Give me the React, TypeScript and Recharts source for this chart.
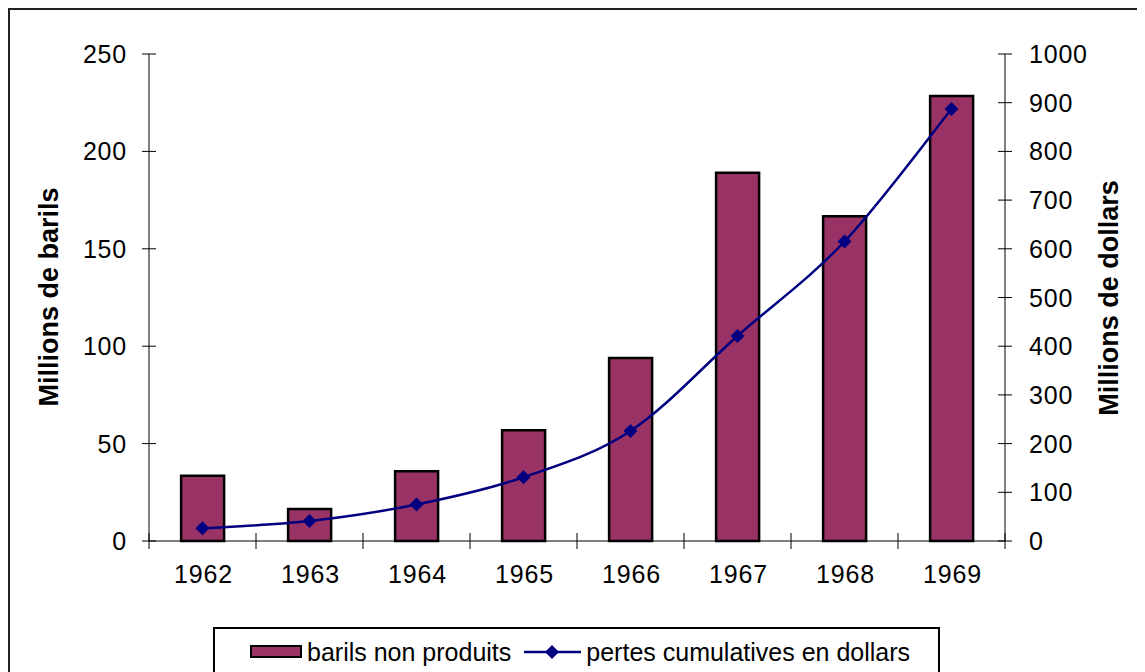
import { Bar, ComposedChart, Line, XAxis, YAxis } from 'recharts';

const years = ['1962', '1963', '1964', '1965', '1966', '1967', '1968', '1969'];
const barilsNonProduits = [33.5, 16.4, 35.8, 56.8, 94, 189, 166.7, 228.4];
const pertesCumulatives = [26, 41, 75, 131, 226, 421, 615, 887];
const leftTicks = [0, 50, 100, 150, 200, 250];
const rightTicks = [0, 100, 200, 300, 400, 500, 600, 700, 800, 900, 1000];

const font = '"Liberation Sans", Arial, sans-serif';
const barColor = '#993366';
const lineColor = '#000080';

const rows = years.map((year, i) => ({
  year,
  barils: barilsNonProduits[i],
  pertes: pertesCumulatives[i],
}));

const plotWidth = 856;
const band = plotWidth / years.length;

// Excel-like smoothed line (Catmull-Rom through the points)
function smoothCurve(context: any) {
  let pts: number[][] = [];
  return {
    areaStart() {},
    areaEnd() {},
    lineStart() {
      pts = [];
    },
    point(x: number, y: number) {
      pts.push([+x, +y]);
    },
    lineEnd() {
      if (!pts.length) return;
      context.moveTo(pts[0][0], pts[0][1]);
      for (let i = 0; i < pts.length - 1; i++) {
        const p0 = pts[i - 1] || pts[i];
        const p1 = pts[i];
        const p2 = pts[i + 1];
        const p3 = pts[i + 2] || p2;
        context.bezierCurveTo(
          p1[0] + (p2[0] - p0[0]) / 6,
          p1[1] + (p2[1] - p0[1]) / 6,
          p2[0] - (p3[0] - p1[0]) / 6,
          p2[1] - (p3[1] - p1[1]) / 6,
          p2[0],
          p2[1],
        );
      }
    },
  };
}

function LeftTick(props: any) {
  const { x, y, payload } = props;
  return (
    <g>
      <line x1={x - 7} x2={x + 7} y1={y} y2={y} stroke="#000" />
      <text x={x - 22} y={y} dy="0.36em" textAnchor="end" fontSize={25} letterSpacing={0.8} fontFamily={font} fill="#000">
        {payload.value}
      </text>
    </g>
  );
}

function RightTick(props: any) {
  const { x, y, payload } = props;
  return (
    <g>
      <line x1={x - 7} x2={x + 7} y1={y} y2={y} stroke="#000" />
      <text x={x + 24} y={y} dy="0.36em" textAnchor="start" fontSize={25} letterSpacing={0.8} fontFamily={font} fill="#000">
        {payload.value}
      </text>
    </g>
  );
}

function YearTick(props: any) {
  const { x, y, payload, index } = props;
  const left = x - band / 2;
  return (
    <g>
      <line x1={left} x2={left} y1={y - 8} y2={y + 8} stroke="#000" />
      {index === years.length - 1 ? (
        <line x1={x + band / 2} x2={x + band / 2} y1={y - 8} y2={y + 8} stroke="#000" />
      ) : null}
      <text x={x + 1} y={y + 42} textAnchor="middle" fontSize={25} letterSpacing={0.8} fontFamily={font} fill="#000">
        {payload.value}
      </text>
    </g>
  );
}

const renderDiamond = (props: any) => {
  const { cx, cy, index } = props;
  const r = 7;
  return (
    <polygon
      key={`dot-${index}`}
      points={`${cx},${cy - r} ${cx + r},${cy} ${cx},${cy + r} ${cx - r},${cy}`}
      fill={lineColor}
    />
  );
};

const titleStyle = {
  position: 'absolute' as const,
  transform: 'translate(-50%, -50%) rotate(-90deg)',
  whiteSpace: 'nowrap' as const,
  fontWeight: 'bold' as const,
  fontSize: 27,
  fontFamily: font,
  color: '#000',
};

export default function App() {
  return (
    <div
      style={{
        position: 'relative',
        width: 1137,
        height: 664,
        borderLeft: '2px solid #222',
        borderTop: '2px solid #222',
        boxSizing: 'border-box',
        overflow: 'hidden',
        background: '#fff',
        fontFamily: font,
      }}
    >
      <ComposedChart
        width={1135}
        height={662}
        data={rows}
        margin={{ top: 44, left: 59, right: 60, bottom: 81 }}
        barCategoryGap="30%"
      >
        <XAxis
          dataKey="year"
          stroke="#000"
          tickLine={false}
          tickSize={0}
          tickMargin={0}
          height={50}
          tick={<YearTick />}
          interval={0}
        />
        <YAxis
          yAxisId="left"
          domain={[0, 250]}
          ticks={leftTicks}
          width={80}
          stroke="#000"
          tickLine={false}
          tickSize={0}
          tickMargin={0}
          tick={<LeftTick />}
          interval={0}
        />
        <YAxis
          yAxisId="right"
          orientation="right"
          domain={[0, 1000]}
          ticks={rightTicks}
          width={80}
          stroke="#000"
          tickLine={false}
          tickSize={0}
          tickMargin={0}
          tick={<RightTick />}
          interval={0}
        />
        <Bar
          yAxisId="left"
          dataKey="barils"
          name="barils non produits"
          fill={barColor}
          stroke="#000"
          strokeWidth={2.5}
          isAnimationActive={false}
        />
        <Line
          yAxisId="right"
          type={smoothCurve as any}
          dataKey="pertes"
          name="pertes cumulatives en dollars"
          stroke={lineColor}
          strokeWidth={2.5}
          dot={renderDiamond}
          activeDot={false}
          isAnimationActive={false}
        />
      </ComposedChart>

      <div style={{ ...titleStyle, left: 39, top: 287 }}>Millions de barils</div>
      <div style={{ ...titleStyle, left: 1099, top: 288 }}>Millions de dollars</div>

      <div
        style={{
          position: 'absolute',
          left: 203,
          top: 617,
          width: 727,
          height: 60,
          border: '2px solid #000',
          boxSizing: 'border-box',
          display: 'flex',
          alignItems: 'flex-start',
          paddingLeft: 35,
          paddingTop: 9,
          fontSize: 25,
          color: '#000',
        }}
      >
        <div
          style={{
            width: 52,
            height: 13,
            marginTop: 7,
            background: barColor,
            border: '2px solid #000',
            boxSizing: 'border-box',
          }}
        />
        <span style={{ marginLeft: 5, lineHeight: '28px' }}>barils non produits</span>
        <svg width={57} height={28} style={{ marginLeft: 13 }}>
          <line x1={0} x2={57} y1={14} y2={14} stroke={lineColor} strokeWidth={2.5} />
          <polygon points="28,7 35,14 28,21 21,14" fill={lineColor} />
        </svg>
        <span style={{ marginLeft: 5, lineHeight: '28px' }}>pertes cumulatives en dollars</span>
      </div>
    </div>
  );
}
